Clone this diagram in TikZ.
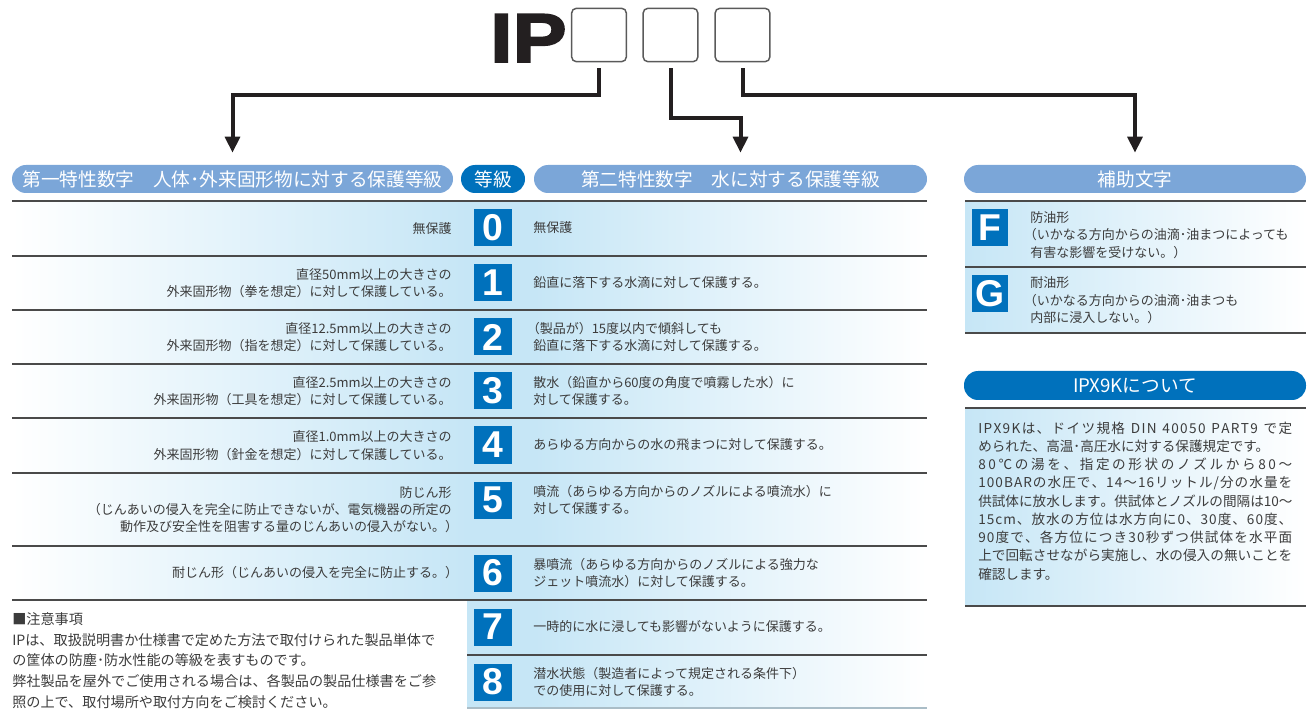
\documentclass[tikz,border=0pt]{standalone}
\usepackage{fontspec}
\setmainfont{Noto Sans CJK JP}
\newfontfamily\hv{Liberation Sans}
\newfontfamily\hvblack{Liberation Sans Bold}[FakeBold=2.5,FakeStretch=1.17]
\usetikzlibrary{arrows.meta}
\definecolor{hlight}{HTML}{7BA6D8}
\definecolor{hdark}{HTML}{0071BC}
\definecolor{tblue}{HTML}{C6E6F6}
\definecolor{txt}{HTML}{3C3C3C}
\definecolor{rulec}{HTML}{4A4A4A}
\definecolor{ink}{HTML}{231F20}
\definecolor{boxline}{HTML}{5A5A5A}
% spread a line of text to full width: glue between every character
\def\sprfirst#1{#1\sprrest}
\def\sprrest#1{\ifx\relax#1\else\hskip 0pt plus 1fil#1\expandafter\sprrest\fi}
\newcommand\jspread[1]{\hbox to 235.5pt{\sprfirst#1\relax}}
\newcommand\jnat[1]{\hbox to 235.5pt{#1\hfil}}
% half-width parentheses
\newcommand\hlp{{\addfontfeature{RawFeature=+halt}（}}
\newcommand\hrp{{\addfontfeature{RawFeature=+halt}）}}
\begin{document}
\begin{tikzpicture}[x=0.75pt,y=-0.75pt,
  ipbox/.style={draw=boxline, line width=1.1pt, rounded corners=3.5pt, fill=white,
    minimum width=41pt, minimum height=40pt, inner sep=0pt},
  hdr/.style={fill=hlight, rounded corners=10.5pt, minimum height=21pt, inner sep=0pt,
    text=white, font=\fontsize{14}{16}\selectfont},
  hdrd/.style={hdr, fill=hdark},
  dig/.style={fill=hdark, text=white, minimum width=28.5pt, minimum height=27.75pt,
    inner sep=0pt, font=\hv\bfseries\fontsize{28}{28}\selectfont},
  ltxt/.style={anchor=east, align=right, text=txt, inner sep=0pt, font=\fontsize{9.75}{13}\selectfont},
  rtxt/.style={anchor=west, align=left, text=txt, inner sep=0pt, font=\fontsize{9.75}{13}\selectfont},
  rulel/.style={draw=rulec, line width=1.1pt},
  arr/.style={draw=ink, line width=3pt, -{Triangle[length=12pt,width=11pt]}}
]
\useasboundingbox (0,0) rectangle (1311,709);

% backgrounds
\shade[left color=white, right color=tblue] (12,201) rectangle (467,600);
\fill[tblue] (467,201) rectangle (534,708);
\shade[left color=tblue, right color=white] (534,201) rectangle (927,708);
\shade[left color=tblue, right color=white] (965,201) rectangle (1306,333);
\shade[left color=tblue, right color=white] (965,408) rectangle (1306,606);

% rules
\foreach \y in {201,256,310,364,418,473,546,600} \draw[rulel] (12,\y) -- (927,\y);
\draw[rulel] (467,655) -- (927,655);
\draw[draw=tblue!60!gray, line width=1.1pt] (467,708) -- (927,708);
\foreach \y in {201,267,333} \draw[rulel] (965,\y) -- (1306,\y);
\draw[rulel] (965,408) -- (1306,408);
\draw[rulel] (965,606) -- (1306,606);

% IP code
\node[anchor=base east, inner sep=0pt, font=\hvblack\fontsize{52}{52}\selectfont, text=ink] (ip) at (567,62) {IP};
\node[ipbox] (b1) at (599,35) {};
\node[ipbox] (b2) at (670.5,35) {};
\node[ipbox] (b3) at (742.5,35) {};

% headers
\node[hdr, minimum width=330.75pt] (h1) at (232.5,179) {第一特性数字　人体･外来固形物に対する保護等級};
\node[hdrd, minimum width=48pt] (h2) at (493,179) {等級};
\node[hdr, minimum width=294.75pt] (h3) at (730.5,179) {第二特性数字　水に対する保護等級};
\node[hdr, minimum width=256.5pt] (h4) at (1135,179) {補助文字};
\node[hdrd, minimum width=256.5pt, minimum height=21.75pt] (h5) at (1135,385.5) {IPX9Kについて};

% arrows
\draw[arr] ([yshift=-4.5pt]b1.south) -- ++(0,27) -| ([yshift=9pt]h1.north);
\draw[arr] ([yshift=-4.5pt]b2.south) -- ++(0,50) -| ([xshift=7.5pt,yshift=9pt]h3.north);
\draw[arr] ([yshift=-4.5pt]b3.south) -- ++(0,27) -| ([yshift=9pt]h4.north);

% digits
\node[dig] (d0) at (493,228) {0};
\node[dig] (d1) at (493,283) {1};
\node[dig] (d2) at (493,337) {2};
\node[dig] (d3) at (493,391) {3};
\node[dig] (d4) at (493,445) {4};
\node[dig] (d5) at (493,500) {5};
\node[dig] (d6) at (493,573) {6};
\node[dig] (d7) at (493,627) {7};
\node[dig] (d8) at (493,682) {8};

% left texts
\node[ltxt] (l0) at (452,228.5) {無保護};
\node[ltxt] (l1) at (452,283) {直径50mm以上の大きさの\\外来固形物（拳を想定）に対して保護している。};
\node[ltxt] (l2) at (452,337) {直径12.5mm以上の大きさの\\外来固形物（指を想定）に対して保護している。};
\node[ltxt] (l3) at (452,391) {直径2.5mm以上の大きさの\\外来固形物（工具を想定）に対して保護している。};
\node[ltxt] (l4) at (452,445.5) {直径1.0mm以上の大きさの\\外来固形物（針金を想定）に対して保護している。};
\node[ltxt] (l5) at (452,509.5) {防じん形\\（じんあいの侵入を完全に防止できないが、電気機器の所定の\\動作及び安全性を阻害する量のじんあいの侵入がない。\hrp};
\node[ltxt] (l6) at (452,573) {耐じん形（じんあいの侵入を完全に防止する。\hrp};

% right texts
\node[rtxt] (r0) at (533,228) {無保護};
\node[rtxt] (r1) at (533,283) {鉛直に落下する水滴に対して保護する。};
\node[rtxt] (r2) at (533,337) {\hlp 製品が）15度以内で傾斜しても\\鉛直に落下する水滴に対して保護する。};
\node[rtxt] (r3) at (533,391) {散水（鉛直から60度の角度で噴霧した水）に\\対して保護する。};
\node[rtxt] (r4) at (533,445) {あらゆる方向からの水の飛まつに対して保護する。};
\node[rtxt] (r5) at (533,500) {噴流（あらゆる方向からのノズルによる噴流水）に\\対して保護する。};
\node[rtxt] (r6) at (533,573) {暴噴流（あらゆる方向からのノズルによる強力な\\ジェット噴流水）に対して保護する。};
\node[rtxt] (r7) at (533,627) {一時的に水に浸しても影響がないように保護する。};
\node[rtxt] (r8) at (533,682) {潜水状態（製造者によって規定される条件下）\\での使用に対して保護する。};

% notes
\node[anchor=west, align=left, text=txt, inner sep=0pt, font=\fontsize{10.6}{15.5}\selectfont] (notes) at (12,660.5)
{■注意事項\\IPは、取扱説明書か仕様書で定めた方法で取付けられた製品単体で\\の筐体の防塵･防水性能の等級を表すものです。\\弊社製品を屋外でご使用される場合は、各製品の製品仕様書をご参\\照の上で、取付場所や取付方向をご検討ください。};

% F / G
\node[dig, minimum width=27pt] (fF) at (990,227.5) {F};
\node[dig, minimum width=27pt] (fG) at (990,293.5) {G};
\node[rtxt] (tF) at (1030,235) {防油形\\\hlp いかなる方向からの油滴･油まつによっても\\有害な影響を受けない。）};
\node[rtxt] (tG) at (1030,300.5) {耐油形\\\hlp いかなる方向からの油滴･油まつも\\内部に浸入しない。）};

% IPX9K text
\node[anchor=west, align=left, text=txt, inner sep=0pt, font=\fontsize{10.2}{13.7}\selectfont] (ipx) at (978,501)
{\jspread{IPX9Kは、ドイツ規格\ DIN\ 40050\ PART9\ で定}\\
\jnat{められた、高温･高圧水に対する保護規定です。}\\
\jspread{80℃の湯を、指定の形状のノズルから80～}\\
\jspread{100BARの水圧で、14～16リットル/分の水量を}\\
\jspread{供試体に放水します。供試体とノズルの間隔は10～}\\
\jspread{15cm、放水の方位は水方向に0、30度、60度、}\\
\jspread{90度で、各方位につき30秒ずつ供試体を水平面}\\
\jspread{上で回転させながら実施し、水の侵入の無いことを}\\
\jnat{確認します。}};
\end{tikzpicture}
\end{document}
